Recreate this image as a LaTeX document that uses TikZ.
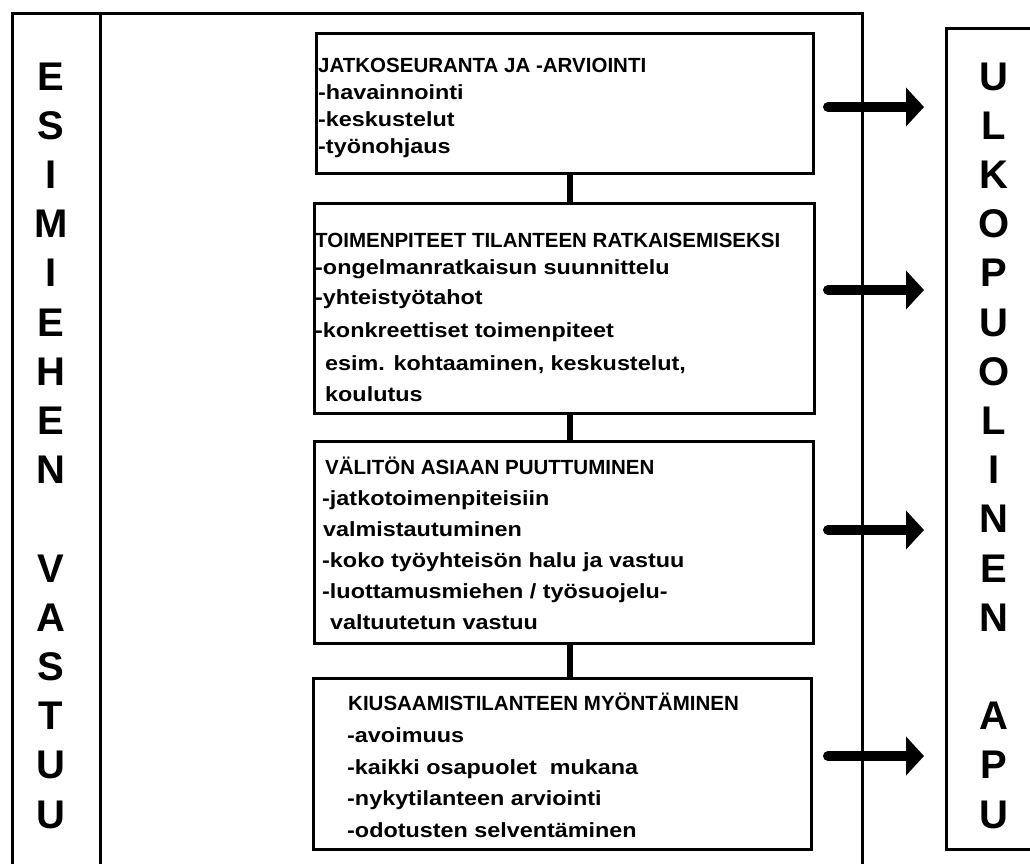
\documentclass[tikz,border=0pt]{standalone}
\usepackage{fontspec}
\setmainfont{Liberation Sans}
\newfontfamily\ttlfont{Liberation Sans}
\newfontfamily\bdyfont{Liberation Sans}[FakeStretch=1.14]
\usetikzlibrary{arrows.meta}
\begin{document}
\begin{tikzpicture}[x=1pt,y=-1pt,
  frameline/.style={line width=3pt},
  box/.style={draw, line width=3pt, anchor=north west, inner sep=0pt},
  ttl/.style={anchor=base west, inner sep=0pt, font=\ttlfont\bfseries\fontsize{20.5}{24}\selectfont},
  bdy/.style={anchor=base west, inner sep=0pt, font=\bdyfont\bfseries\fontsize{20.5}{24}\selectfont},
  big/.style={anchor=base, inner sep=0pt, font=\bfseries\fontsize{40}{48}\selectfont},
  link/.style={line width=6pt},
  sendarrow/.style={line width=10pt, line cap=round, -{Triangle[length=18pt,width=38pt]}}
]
\useasboundingbox (0,0) rectangle (1030,863);
% outer frame (open at the bottom)
\coordinate (fa) at (12,880);
\coordinate (fb) at (12,13);
\coordinate (fc) at (862,13);
\coordinate (fd) at (862,880);
\coordinate (sa) at (100,13);
\coordinate (sb) at (100,880);
\draw[frameline] (fa) -- (fb) -- (fc) -- (fd);
\draw[frameline] (sa) -- (sb);
% right box
\node[box, minimum width=120pt, minimum height=821pt] (rbox) at (945,27) {};
% boxes
\node[box, minimum width=497pt, minimum height=140pt] (b1) at (315,32) {};
\node[box, minimum width=500pt, minimum height=210pt] (b2) at (313,202) {};
\node[box, minimum width=499pt, minimum height=202pt] (b3) at (313,440) {};
\node[box, minimum width=498pt, minimum height=171pt] (b4) at (312,677) {};
% connectors
\coordinate (cx) at (570,0);
\draw[link] (b1.south -| cx) -- (b2.north -| cx);
\draw[link] (b2.south -| cx) -- (b3.north -| cx);
\draw[link] (b3.south -| cx) -- (b4.north -| cx);
% box 1 text
\node[ttl] (t11) at (318,72) {JATKOSEURANTA JA -ARVIOINTI};
\node[bdy] (t12) at (318,99) {-havainnointi};
\node[bdy] (t13) at (318,126) {-keskustelut};
\node[bdy] (t14) at (318,153) {-työnohjaus};
% box 2 text
\node[ttl] (t21) at (315,247) {TOIMENPITEET TILANTEEN RATKAISEMISEKSI};
\node[bdy] (t22) at (315,274) {-ongelmanratkaisun suunnittelu};
\node[bdy] (t23) at (315,304) {-yhteistyötahot};
\node[bdy] (t24) at (315,337) {-konkreettiset toimenpiteet};
\node[bdy] (t25) at (325,370) {esim. kohtaaminen, keskustelut,};
\node[bdy] (t26) at (325,401) {koulutus};
% box 3 text
\node[ttl] (t31) at (325,474) {VÄLITÖN ASIAAN PUUTTUMINEN};
\node[bdy] (t32) at (322,505) {-jatkotoimenpiteisiin};
\node[bdy] (t33) at (323,536) {valmistautuminen};
\node[bdy] (t34) at (322,567) {-koko työyhteisön halu ja vastuu};
\node[bdy] (t35) at (322,598) {-luottamusmiehen / työsuojelu-};
\node[bdy] (t36) at (330,629) {valtuutetun vastuu};
% box 4 text
\node[ttl] (t41) at (348,710) {KIUSAAMISTILANTEEN MYÖNTÄMINEN};
\node[bdy] (t42) at (347,742) {-avoimuus};
\node[bdy] (t43) at (347,774) {-kaikki osapuolet\ \ mukana};
\node[bdy] (t44) at (347,805) {-nykytilanteen arviointi};
\node[bdy] (t45) at (347,837) {-odotusten selventäminen};
% arrows
\foreach \k/\yy in {1/107,2/290,3/530,4/756}{
  \coordinate (as\k) at (828,\yy);
  \coordinate (ae\k) at (924,\yy);
  \draw[sendarrow] (as\k) -- (ae\k);
}
% left column letters
\foreach \l/\k in {E/0,S/1,I/2,M/3,I/4,E/5,H/6,E/7,N/8,V/10,A/11,S/12,T/13,U/14,U/15}{
  \node[big] (L\k) at (51,90+49.2*\k) {\l};
}
% right column letters
\foreach \l/\k in {U/0,L/1,K/2,O/3,P/4,U/5,O/6,L/7,I/8,N/9,E/10,N/11,A/13,P/14,U/15}{
  \node[big] (R\k) at (994,90+49.2*\k) {\l};
}
\end{tikzpicture}
\end{document}
